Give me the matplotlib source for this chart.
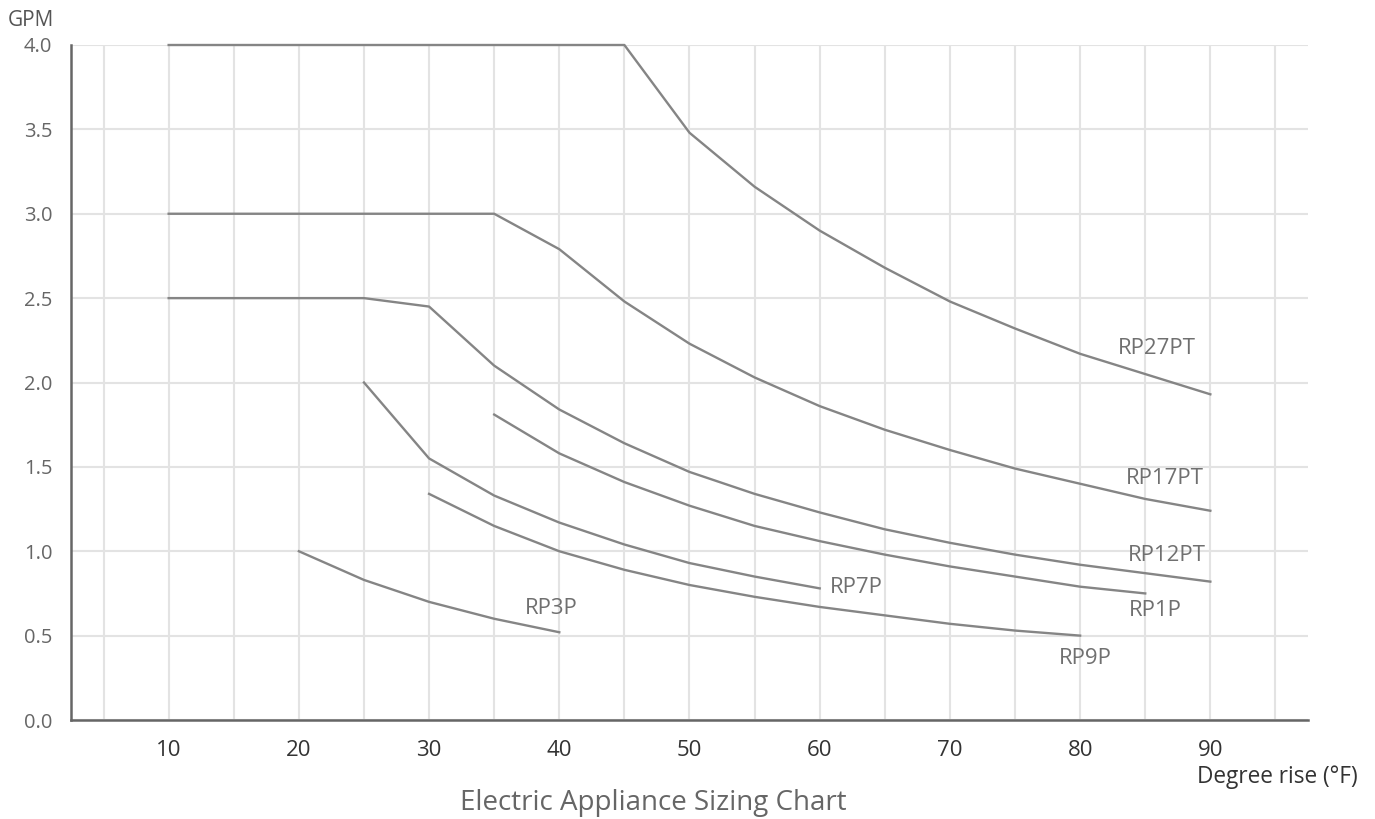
import matplotlib
matplotlib.use("Agg")
import matplotlib.pyplot as plt
import numpy as np

plt.rcParams['font.family'] = ['Open Sans', 'DejaVu Sans']

# Data
x_rp27pt = [10, 15, 20, 25, 30, 35, 40, 45, 50, 55, 60, 65, 70, 75, 80, 85, 90]
y_rp27pt = [4.0, 4.0, 4.0, 4.0, 4.0, 4.0, 4.0, 4.0, 3.48, 3.16, 2.90, 2.68, 2.48, 2.32, 2.17, 2.05, 1.93]

x_rp17pt = [10, 15, 20, 25, 30, 35, 40, 45, 50, 55, 60, 65, 70, 75, 80, 85, 90]
y_rp17pt = [3.0, 3.0, 3.0, 3.0, 3.0, 3.0, 2.79, 2.48, 2.23, 2.03, 1.86, 1.72, 1.60, 1.49, 1.40, 1.31, 1.24]

x_rp12pt = [10, 15, 20, 25, 30, 35, 40, 45, 50, 55, 60, 65, 70, 75, 80, 85, 90]
y_rp12pt = [2.5, 2.5, 2.5, 2.5, 2.45, 2.10, 1.84, 1.64, 1.47, 1.34, 1.23, 1.13, 1.05, 0.98, 0.92, 0.87, 0.82]

x_rp1p = [35, 40, 45, 50, 55, 60, 65, 70, 75, 80, 85]
y_rp1p = [1.81, 1.58, 1.41, 1.27, 1.15, 1.06, 0.98, 0.91, 0.85, 0.79, 0.75]

x_rp7p = [25, 30, 35, 40, 45, 50, 55, 60]
y_rp7p = [2.0, 1.55, 1.33, 1.17, 1.04, 0.93, 0.85, 0.78]

x_rp9p = [30, 35, 40, 45, 50, 55, 60, 65, 70, 75, 80]
y_rp9p = [1.34, 1.15, 1.0, 0.89, 0.80, 0.73, 0.67, 0.62, 0.57, 0.53, 0.50]

x_rp3p = [20, 25, 30, 35, 40]
y_rp3p = [1.0, 0.83, 0.70, 0.60, 0.52]

series_names = ["RP27PT", "RP17PT", "RP12PT", "RP1P", "RP7P", "RP9P", "RP3P"]
label_x = [85.9, 86.5, 86.7, 85.8, 62.8, 80.4, 39.4]
label_y = [2.20, 1.43, 0.975, 0.648, 0.788, 0.363, 0.658]

x_ticks = [10, 20, 30, 40, 50, 60, 70, 80, 90]
y_ticks = [0.0, 0.5, 1.0, 1.5, 2.0, 2.5, 3.0, 3.5, 4.0]

fig = plt.figure(figsize=(13.75, 8.19), dpi=100)
ax = fig.add_axes([71/1375, 1 - 720/819, (1308-71)/1375, (720-45)/819])

line_color = '#858585'
series = [(x_rp27pt, y_rp27pt), (x_rp17pt, y_rp17pt), (x_rp12pt, y_rp12pt),
          (x_rp1p, y_rp1p), (x_rp7p, y_rp7p), (x_rp9p, y_rp9p), (x_rp3p, y_rp3p)]
for (xs, ys) in series:
    ax.plot(xs, ys, color=line_color, lw=1.7, clip_on=False, zorder=3,
            solid_joinstyle='round')

for name, lx, ly in zip(series_names, label_x, label_y):
    ax.text(lx, ly, name, ha='center', va='center', fontsize=16, color='#707070')

ax.set_xlim(2.5, 97.5)
ax.set_ylim(0, 4.0)

ax.set_xticks(np.arange(5, 96, 5), minor=True)
ax.set_xticks(x_ticks)
ax.set_xticklabels([str(v) for v in x_ticks], fontsize=16, color='#333333')
ax.set_yticks(y_ticks)
ax.set_yticklabels([f"{v:.1f}" for v in y_ticks], fontsize=14.5, color='#666666')

ax.grid(True, which='both', axis='x', color='#e3e3e3', lw=1.5)
ax.grid(True, which='major', axis='y', color='#e3e3e3', lw=1.5)
ax.set_axisbelow(True)

ax.tick_params(axis='both', which='both', length=0)
ax.tick_params(axis='x', pad=14.5)
ax.tick_params(axis='y', pad=13.5)

for s in ['top', 'right']:
    ax.spines[s].set_visible(False)
for s in ['left', 'bottom']:
    ax.spines[s].set_color('#666666')
    ax.spines[s].set_linewidth(1.8)

fig.text(8/1375, 1 - 21/819, "GPM", fontsize=15, color='#555555', ha='left', va='center')
fig.text(1358/1375, 1 - 777/819, "Degree rise (°F)", fontsize=16.3, color='#333333', ha='right', va='center')
fig.text(653/1375, 1 - 803/819, "Electric Appliance Sizing Chart", fontsize=20, color='#666666', ha='center', va='center')

fig.savefig("out.png", dpi=100)
